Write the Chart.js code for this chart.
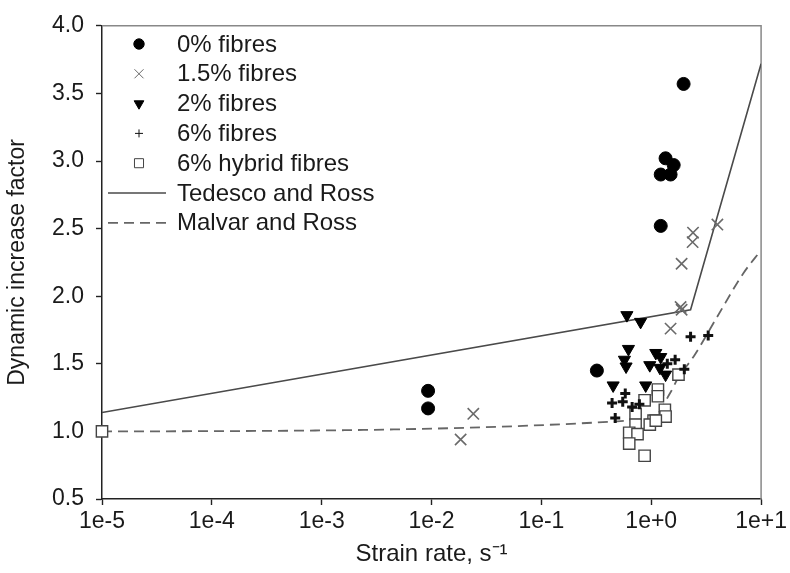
<!DOCTYPE html>
<html>
<head>
<meta charset="utf-8">
<script src="https://cdn.jsdelivr.net/npm/chart.js@4/dist/chart.umd.min.js"></script>
<style>
  html, body { margin: 0; padding: 0; background: #fff; }
  #wrap { width: 790px; height: 573px; }
</style>
</head>
<body>
<div id="wrap"><canvas id="difChart"></canvas></div>
<script>
// values (strain rate in 1/s, DIF)
const xTicks = [1e-5, 1e-4, 1e-3, 1e-2, 1e-1, 1, 10];

const fib0X = [0.0093, 0.0093, 0.32, 1.22, 1.35, 1.60, 1.22, 1.50, 1.97];
const fib0Y = [1.30, 1.17, 1.45, 2.52, 3.02, 2.97, 2.90, 2.90, 3.57];

const fib15X = [0.0184, 0.024, 1.50, 1.89, 1.85, 1.89, 2.38, 2.40, 4.0];
const fib15Y = [0.94, 1.13, 1.76, 1.90, 1.92, 2.24, 2.40, 2.47, 2.53];

const fib2X = [0.60, 0.80, 0.62, 0.57, 0.59, 1.10, 1.22, 0.97, 1.20, 1.35, 0.45, 0.89];
const fib2Y = [1.86, 1.81, 1.61, 1.53, 1.48, 1.58, 1.55, 1.49, 1.47, 1.42, 1.34, 1.34];

const fib6X = [2.28, 3.3, 1.65, 2.0, 0.58, 0.44, 0.55, 0.67, 0.47, 1.40, 0.78];
const fib6Y = [1.70, 1.71, 1.53, 1.46, 1.28, 1.21, 1.22, 1.18, 1.10, 1.50, 1.20];

const hybX = [1e-5, 1.77, 1.15, 0.87, 1.15, 1.33, 0.72, 1.05, 1.35, 0.72, 0.63, 0.75, 0.63, 0.97, 0.87, 1.10];
const hybY = [1.00, 1.42, 1.31, 1.23, 1.26, 1.16, 1.13, 1.08, 1.11, 1.05, 0.99, 0.98, 0.91, 1.05, 0.82, 1.08];

const tedescoX = [1e-5, 2.28, 10];
const tedescoY = [1.14, 1.90, 3.72];

const malvarX = [1e-5, 1.0, 1.5, 1.74, 2.46, 4.0, 6.9, 10];
const malvarY = [1.00, 1.09, 1.29, 1.39, 1.56, 1.85, 2.17, 2.34];

const legendLabels = ["0% fibres", "1.5% fibres", "2% fibres", "6% fibres", "6% hybrid fibres", "Tedesco and Ross", "Malvar and Ross"];

const FONT = "'Liberation Sans', Arial, sans-serif";
const TEXT = "#1a1a1a";

function pts(xs, ys) {
  return xs.map((x, i) => ({ x: x, y: ys[i] }));
}

// legend drawn inside the plot, top-left
const insideLegend = {
  id: "insideLegend",
  afterDraw(chart) {
    const ctx = chart.ctx;
    const sets = chart.data.datasets;
    ctx.save();
    ctx.font = "24px " + FONT;
    ctx.textBaseline = "middle";
    const x0 = 139, tx = 177, y0 = 44, dy = 29.8;
    sets.forEach((ds, i) => {
      const y = y0 + i * dy;
      if (ds.showLine) {
        ctx.strokeStyle = ds.borderColor;
        ctx.lineWidth = ds.borderWidth;
        ctx.setLineDash(ds.borderDash || []);
        ctx.beginPath();
        ctx.moveTo(108, y);
        ctx.lineTo(166, y);
        ctx.stroke();
        ctx.setLineDash([]);
      } else {
        ctx.fillStyle = ds.pointBackgroundColor;
        ctx.strokeStyle = ds.pointBorderColor;
        Chart.helpers.drawPoint(ctx, {
          pointStyle: ds.pointStyle,
          rotation: ds.pointRotation || 0,
          radius: ds.pointRadius * 0.8,
          borderWidth: ds.pointBorderWidth
        }, x0, y);
      }
      ctx.fillStyle = TEXT;
      ctx.fillText(legendLabels[i], tx, y + 1);
    });
    ctx.restore();
  }
};

// grey frame on the top and right of the plot
const frame = {
  id: "frame",
  beforeDatasetsDraw(chart) {
    const a = chart.chartArea, ctx = chart.ctx;
    ctx.save();
    ctx.strokeStyle = "#888";
    ctx.lineWidth = 1.5;
    ctx.beginPath();
    ctx.moveTo(a.left, a.top);
    ctx.lineTo(a.right, a.top);
    ctx.lineTo(a.right, a.bottom);
    ctx.stroke();
    ctx.restore();
  }
};

const ctx = document.getElementById("difChart").getContext("2d");

new Chart(ctx, {
  type: "scatter",
  data: {
    datasets: [
      {
        label: legendLabels[0],
        data: pts(fib0X, fib0Y),
        pointStyle: "circle",
        pointRadius: 6.5,
        pointBackgroundColor: "#000",
        pointBorderColor: "#000",
        pointBorderWidth: 1,
        clip: false
      },
      {
        label: legendLabels[1],
        data: pts(fib15X, fib15Y),
        pointStyle: "crossRot",
        pointRadius: 8,
        pointBackgroundColor: "#6a6a6a",
        pointBorderColor: "#6a6a6a",
        pointBorderWidth: 1.6,
        clip: false
      },
      {
        label: legendLabels[2],
        data: pts(fib2X, fib2Y),
        pointStyle: "triangle",
        pointRotation: 180,
        pointRadius: 7,
        pointBackgroundColor: "#000",
        pointBorderColor: "#000",
        pointBorderWidth: 1,
        clip: false
      },
      {
        label: legendLabels[3],
        data: pts(fib6X, fib6Y),
        pointStyle: "cross",
        pointRadius: 5,
        pointBackgroundColor: "#000",
        pointBorderColor: "#111",
        pointBorderWidth: 3,
        clip: false
      },
      {
        label: legendLabels[4],
        data: pts(hybX, hybY),
        pointStyle: "rect",
        pointRadius: 8,
        pointBackgroundColor: "#fff",
        pointBorderColor: "#444",
        pointBorderWidth: 1.4,
        clip: false
      },
      {
        label: legendLabels[5],
        data: pts(tedescoX, tedescoY),
        showLine: true,
        borderColor: "#4a4a4a",
        borderWidth: 1.6,
        pointRadius: 0,
        tension: 0
      },
      {
        label: legendLabels[6],
        data: pts(malvarX, malvarY),
        showLine: true,
        borderColor: "#666",
        borderWidth: 1.8,
        borderDash: [10, 6],
        pointRadius: 0,
        cubicInterpolationMode: "monotone"
      }
    ]
  },
  options: {
    responsive: true,
    maintainAspectRatio: false,
    animation: false,
    layout: { padding: { top: 18, right: 26, left: 0, bottom: 0 } },
    plugins: {
      legend: { display: false },
      tooltip: { enabled: false }
    },
    scales: {
      x: {
        type: "logarithmic",
        position: "bottom",
        min: 1e-5,
        max: 10,
        afterBuildTicks(scale) {
          scale.ticks = xTicks.map(v => ({ value: v }));
        },
        afterFit(scale) { scale.height = 74; },
        ticks: {
          autoSkip: false,
          maxRotation: 0,
          padding: 3,
          color: TEXT,
          font: { family: FONT, size: 23 },
          callback: v => Number(v).toExponential(0)
        },
        grid: { drawOnChartArea: false, tickLength: 6, tickColor: "#222", tickWidth: 1.4 },
        border: { color: "#222", width: 1.5 },
        title: {
          display: true,
          text: "Strain rate, s⁻¹",
          color: TEXT,
          font: { family: FONT, size: 24 },
          padding: { top: 2 }
        }
      },
      y: {
        min: 0.5,
        max: 4.0,
        afterFit(scale) { scale.width = 102; },
        ticks: {
          stepSize: 0.5,
          padding: 12,
          color: TEXT,
          font: { family: FONT, size: 23 },
          callback: v => Number(v).toFixed(1)
        },
        grid: { drawOnChartArea: false, tickLength: 6, tickColor: "#222", tickWidth: 1.4 },
        border: { color: "#222", width: 1.5 },
        title: {
          display: true,
          text: "Dynamic increase factor",
          color: TEXT,
          font: { family: FONT, size: 23 },
          padding: { bottom: 2 }
        }
      }
    }
  },
  plugins: [frame, insideLegend]
});
</script>
</body>
</html>
